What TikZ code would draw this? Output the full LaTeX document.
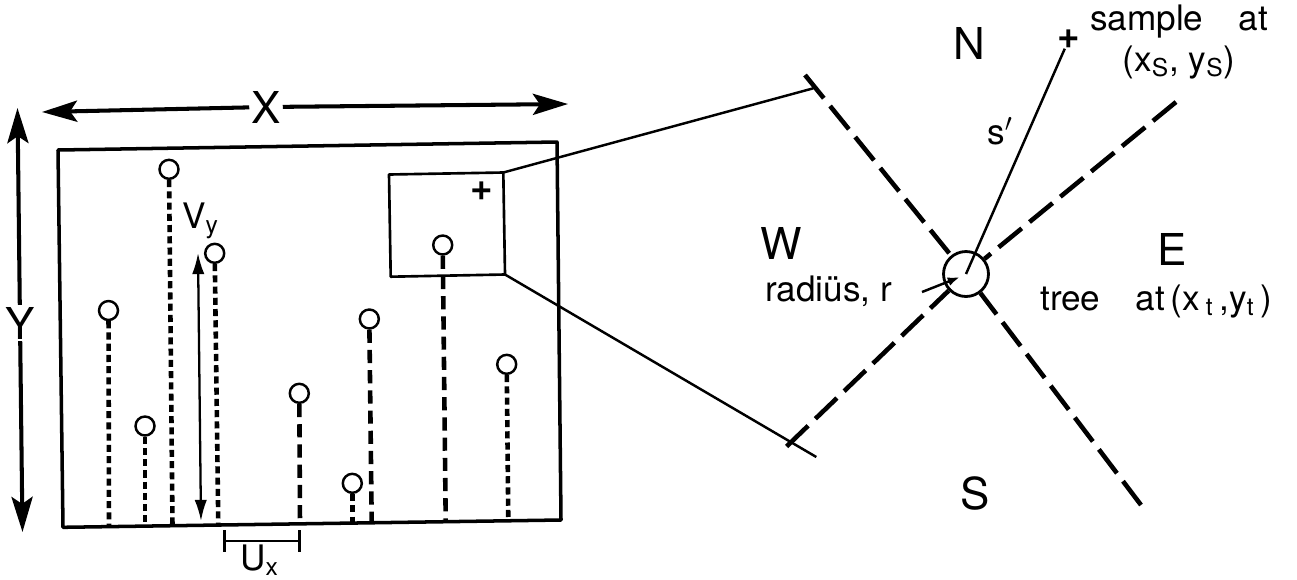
\documentclass[tikz,border=0pt]{standalone}
\usepackage{fontspec}
\setmainfont{TeX Gyre Heros}
\usetikzlibrary{arrows.meta}

\tikzset{
  frame/.style={line width=2pt, line join=round},
  boxline/.style={line width=1.5pt, line join=round},
  thinline/.style={line width=1.4pt},
  bigtag/.style={font=\fontsize{25}{30}\selectfont, inner sep=1pt},
  tag/.style={font=\fontsize{20}{24}\selectfont, inner sep=0.5pt},
  plusmark/.style={font=\fontsize{22}{26}\selectfont\bfseries, inner sep=0pt},
  crown/.style={circle, draw, line width=1.4pt, minimum size=0.38cm, inner sep=0pt},
  treering/.style={circle, draw, line width=1.6pt, minimum size=0.9cm, inner sep=0pt},
  stemfine/.style={line width=2.6pt, dash pattern=on 4pt off 2.4pt},
  stemcoarse/.style={line width=2.6pt, dash pattern=on 7.5pt off 4pt},
  axisline/.style={line width=2.6pt, dash pattern=on 17pt off 5.7pt},
  bigarrow/.style={line width=2.3pt, -{Stealth[length=20pt, width=12pt, inset=4pt]}},
  dimarrow/.style={line width=1.3pt, {Latex[length=12pt, width=7pt]}-{Latex[length=12pt, width=7pt]}},
  dimbar/.style={line width=1.5pt, {Bar[width=12pt, line width=1.5pt]}-{Bar[width=12pt, line width=1.5pt]}}
}

\providecommand{\treemark}[6]{%
  \node[crown] (#1) at (#2,#3) {};
  \coordinate (#1base) at (#4,#5);
  \draw[#6] (#1) -- (#1base);
}

\begin{document}
\begin{tikzpicture}[x=0.02cm, y=-0.02cm]
  \useasboundingbox (0,0) rectangle (1297,579);

  % --------------------------------------------------------------------------
  % Plot outline and its X / Y extent
  % --------------------------------------------------------------------------
  \draw[frame] (58,150) -- (557,142) -- (561,520) -- (63,527.3) -- cycle;

  \node[bigtag] (xlab) at (266,107) {X};
  \coordinate (xleft)  at (42,112);
  \coordinate (xright) at (568,104);
  \draw[bigarrow] (xlab) -- (xleft);
  \draw[bigarrow] (xlab) -- (xright);

  \node[bigtag] (ylab) at (20,323) {Y};
  \coordinate (ytop) at (17.5,108);
  \coordinate (ybot) at (22.5,532);
  \draw[bigarrow] (ylab) -- (ytop);
  \draw[bigarrow] (ylab) -- (ybot);

  % --------------------------------------------------------------------------
  % Trees in the plot
  % --------------------------------------------------------------------------
  \treemark{t1}{108.5}{310.5}{109}{526.6}{stemfine}
  \treemark{t2}{145}{426}{145}{526}{stemfine}
  \treemark{t3}{169}{169.3}{172.5}{525.5}{stemfine}
  \treemark{t4}{214.7}{253.3}{218.3}{524.8}{stemfine}
  \treemark{t5}{299.3}{393.3}{300}{523.5}{stemcoarse}
  \treemark{t6}{352.3}{483.3}{352.3}{522.7}{stemfine}
  \treemark{t7}{369.3}{319}{371.7}{522.4}{stemcoarse}
  \treemark{t8}{442.7}{245}{445.7}{521.2}{stemcoarse}
  \treemark{t9}{506.7}{364.3}{508.3}{520.2}{stemfine}

  % offsets V_y and U_x
  \coordinate (vtop) at (198,253);
  \coordinate (vbot) at (201,521);
  \draw[dimarrow] (vbot) -- (vtop);
  \node[tag, anchor=base west] (vy) at (181,228) {V\textsubscript{y}};

  \coordinate (uleft)  at (223.3,541);
  \coordinate (uright) at (301,541);
  \draw[dimbar] (uleft) -- (uright);
  \node[tag, anchor=base west] (ux) at (239,570) {U\textsubscript{x}};

  % --------------------------------------------------------------------------
  % Enlarged window
  % --------------------------------------------------------------------------
  \coordinate (wintl) at (389,174.5);
  \coordinate (wintr) at (503.3,172.5);
  \coordinate (winbr) at (505,274.5);
  \coordinate (winbl) at (390.7,276.7);
  \draw[boxline] (wintl) -- (wintr) -- (winbr) -- (winbl) -- cycle;
  \node[plusmark] (winplus) at (481.7,190.7) {+};

  \coordinate (nwend) at (805,75);
  \coordinate (nwjoin) at (813.3,88.3);
  \coordinate (swend) at (786.6,446.4);
  \coordinate (swjoin) at (816.3,457);
  \draw[thinline] (wintr) -- (nwjoin);
  \draw[thinline] (winbr) -- (swjoin);

  % --------------------------------------------------------------------------
  % Tree with its quadrant lines and the sample
  % --------------------------------------------------------------------------
  \node[treering] (tree) at (966,274) {};
  \coordinate (seend) at (1141,505);
  \coordinate (neend) at (1176,102);
  \draw[axisline] (nwend) -- (tree);
  \draw[axisline] (seend) -- (tree);
  \draw[axisline] (neend) -- (tree);
  \draw[axisline] (swend) -- (tree);

  \node[plusmark] (sample) at (1069,39) {+};
  \draw[thinline] (sample) -- (tree.center);
  \node[tag] (sprime) at (1000,131) {s$'$};

  \coordinate (rtail) at (922,292);
  \coordinate (rhead) at (960,277);
  \draw[thinline, -{Latex[length=7pt, width=5pt]}] (rtail) -- (rhead);

  \node[bigtag] (north) at (969,43) {N};
  \node[bigtag] (west)  at (781,243) {W};
  \node[bigtag] (east)  at (1172,249) {E};
  \node[bigtag] (south) at (975,493) {S};

  \node[tag, anchor=base] (samplelbl) at (1179,30.4) {sample\quad at};
  \node[tag, anchor=base] (samplexy) at (1179,71) {(x\textsubscript{S}, y\textsubscript{S})};
  \node[tag, anchor=base west] (radlbl) at (764,301) {radiüs, r};
  \node[tag, anchor=base west] (treelbl) at (1039,310) {tree\quad at\,(x\,\textsubscript{t}\,,y\textsubscript{t}\,)};

\end{tikzpicture}
\end{document}
